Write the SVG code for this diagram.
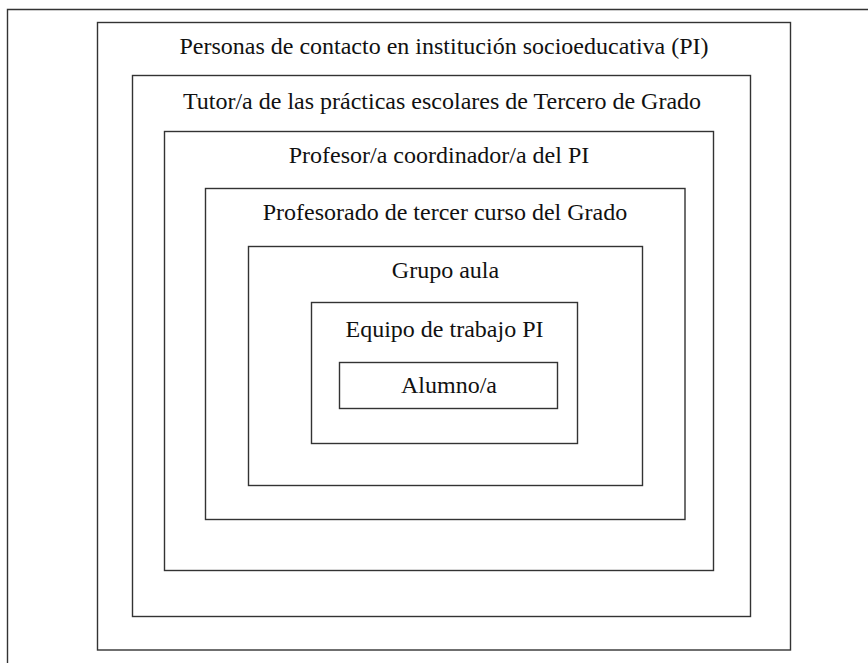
<svg xmlns="http://www.w3.org/2000/svg" width="868" height="663" viewBox="0 0 868 663">
<style>
.b{fill:none;stroke:#333;stroke-width:1.4}
.t{font-family:"Liberation Serif","Times New Roman",serif;font-size:24px;fill:#111;text-anchor:middle}
</style>
<rect width="868" height="663" fill="#fff"/>
<g id="frame"><path class="b" d="M7.5,663 V9.5 H868"/></g>
<g id="n1"><rect class="b" x="97.5" y="22.5" width="693" height="627.5"/><text class="t" x="444" y="54">Personas de contacto en institución socioeducativa (PI)</text></g>
<g id="n2"><rect class="b" x="132.5" y="75.5" width="618" height="541"/><text class="t" x="442" y="109">Tutor/a de las prácticas escolares de Tercero de Grado</text></g>
<g id="n3"><rect class="b" x="164.5" y="131.5" width="549" height="439"/><text class="t" x="439" y="163">Profesor/a coordinador/a del PI</text></g>
<g id="n4"><rect class="b" x="205.5" y="188.5" width="479.5" height="331"/><text class="t" x="445" y="220">Profesorado de tercer curso del Grado</text></g>
<g id="n5"><rect class="b" x="248.5" y="246.5" width="394" height="239"/><text class="t" x="445.5" y="278">Grupo aula</text></g>
<g id="n6"><rect class="b" x="311.5" y="302.5" width="266" height="141"/><text class="t" x="444.5" y="337">Equipo de trabajo PI</text></g>
<g id="n7"><rect class="b" x="339.5" y="362.5" width="218" height="46"/><text class="t" x="449" y="393">Alumno/a</text></g>
<g id="connectors"/>
</svg>
